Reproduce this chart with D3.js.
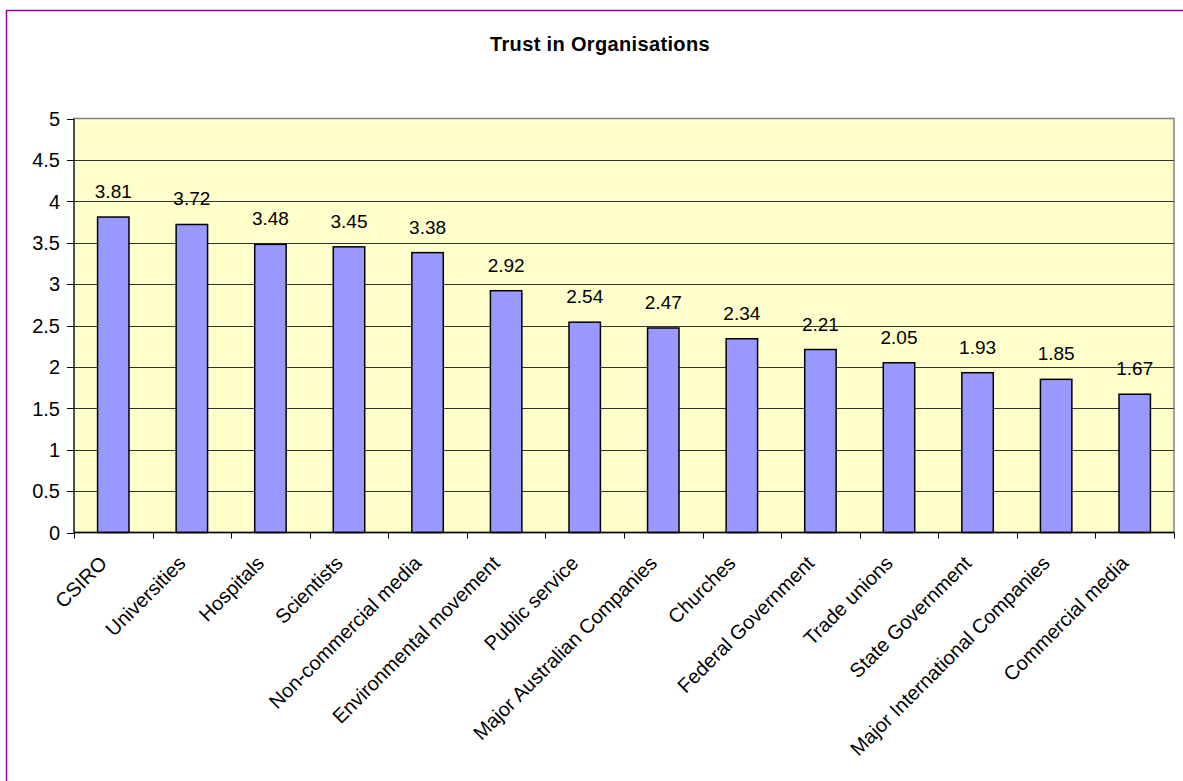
<!DOCTYPE html>
<html>
<head>
<meta charset="utf-8">
<script src="https://cdn.jsdelivr.net/npm/d3@7"></script>
<style>
  body { margin: 0; background: #fff; }
  text { font-family: "Liberation Sans", Arial, sans-serif; fill: #000; }
</style>
</head>
<body>
<div id="chart"></div>
<script>
// Données
const categories = ["CSIRO", "Universities", "Hospitals", "Scientists", "Non-commercial media",
  "Environmental movement", "Public service", "Major Australian Companies", "Churches",
  "Federal Government", "Trade unions", "State Government", "Major International Companies",
  "Commercial media"];
const values = [3.81, 3.72, 3.48, 3.45, 3.38, 2.92, 2.54, 2.47, 2.34, 2.21, 2.05, 1.93, 1.85, 1.67];
const yTicks = [0, 0.5, 1, 1.5, 2, 2.5, 3, 3.5, 4, 4.5, 5];

const width = 1183;
const height = 781;
const plot = { left: 74, right: 1174, top: 118.5, bottom: 532.5 };

const svg = d3.select("#chart")
  .append("svg")
  .attr("width", width)
  .attr("height", height);

// Cadre violet
svg.append("rect")
  .attr("x", 6.5).attr("y", 10.5)
  .attr("width", width + 20).attr("height", height + 20)
  .attr("fill", "#fff")
  .attr("stroke", "#990099")
  .attr("stroke-width", 1.5);

const x = d3.scaleBand()
  .domain(categories)
  .range([plot.left, plot.right])
  .paddingInner(0.6)
  .paddingOuter(0.3);

const y = d3.scaleLinear()
  .domain([0, 5])
  .range([plot.bottom, plot.top]);

// Fond du graphique
svg.append("rect")
  .attr("x", plot.left).attr("y", plot.top)
  .attr("width", plot.right - plot.left)
  .attr("height", plot.bottom - plot.top)
  .attr("fill", "#FFFFCC")
  .attr("stroke", "#808080")
  .attr("stroke-width", 1.5);

// Lignes de grille
svg.append("g")
  .selectAll("line")
  .data(yTicks.filter(d => d > 0 && d < 5))
  .join("line")
  .attr("x1", plot.left).attr("x2", plot.right)
  .attr("y1", d => Math.round(y(d)) + 0.5)
  .attr("y2", d => Math.round(y(d)) + 0.5)
  .attr("stroke", "#333")
  .attr("stroke-width", 1);

// Barres
svg.append("g")
  .selectAll("rect")
  .data(values)
  .join("rect")
  .attr("x", (d, i) => x(categories[i]))
  .attr("y", d => y(d))
  .attr("width", x.bandwidth())
  .attr("height", d => y(0) - y(d))
  .attr("fill", "#9999FF")
  .attr("stroke", "#000")
  .attr("stroke-width", 1.5);

// Étiquettes de valeurs
svg.append("g")
  .selectAll("text")
  .data(values)
  .join("text")
  .attr("x", (d, i) => x(categories[i]) + x.bandwidth() / 2)
  .attr("y", d => y(d) - 19)
  .attr("text-anchor", "middle")
  .style("font-size", "19px")
  .text(d => d.toFixed(2));

// Axe Y
svg.append("line")
  .attr("x1", plot.left).attr("x2", plot.left)
  .attr("y1", plot.top).attr("y2", plot.bottom)
  .attr("stroke", "#000");

const yAxis = svg.append("g");
yAxis.selectAll("line")
  .data(yTicks)
  .join("line")
  .attr("x1", plot.left - 7).attr("x2", plot.left)
  .attr("y1", d => Math.round(y(d)) + 0.5)
  .attr("y2", d => Math.round(y(d)) + 0.5)
  .attr("stroke", "#000");
yAxis.selectAll("text")
  .data(yTicks)
  .join("text")
  .attr("x", plot.left - 14)
  .attr("y", d => y(d))
  .attr("dy", "0.36em")
  .attr("text-anchor", "end")
  .style("font-size", "20px")
  .text(d => d);

// Axe X
svg.append("line")
  .attr("x1", plot.left).attr("x2", plot.right)
  .attr("y1", plot.bottom).attr("y2", plot.bottom)
  .attr("stroke", "#000")
  .attr("stroke-width", 1.5);

const step = (plot.right - plot.left) / categories.length;
svg.append("g")
  .selectAll("line")
  .data(d3.range(categories.length + 1))
  .join("line")
  .attr("x1", i => Math.round(plot.left + i * step) + 0.5)
  .attr("x2", i => Math.round(plot.left + i * step) + 0.5)
  .attr("y1", plot.bottom).attr("y2", plot.bottom + 6)
  .attr("stroke", "#000");

svg.append("g")
  .selectAll("text")
  .data(categories)
  .join("text")
  .attr("transform", d => `translate(${x(d) + x.bandwidth() / 2 - 5},${plot.bottom + 32}) rotate(-45)`)
  .attr("text-anchor", "end")
  .style("font-size", "20px")
  .text(d => d);

// Titre
svg.append("text")
  .attr("x", 600)
  .attr("y", 51)
  .attr("text-anchor", "middle")
  .style("font-size", "20px")
  .style("font-weight", "bold")
  .style("letter-spacing", "0.35px")
  .text("Trust in Organisations");
</script>
</body>
</html>
